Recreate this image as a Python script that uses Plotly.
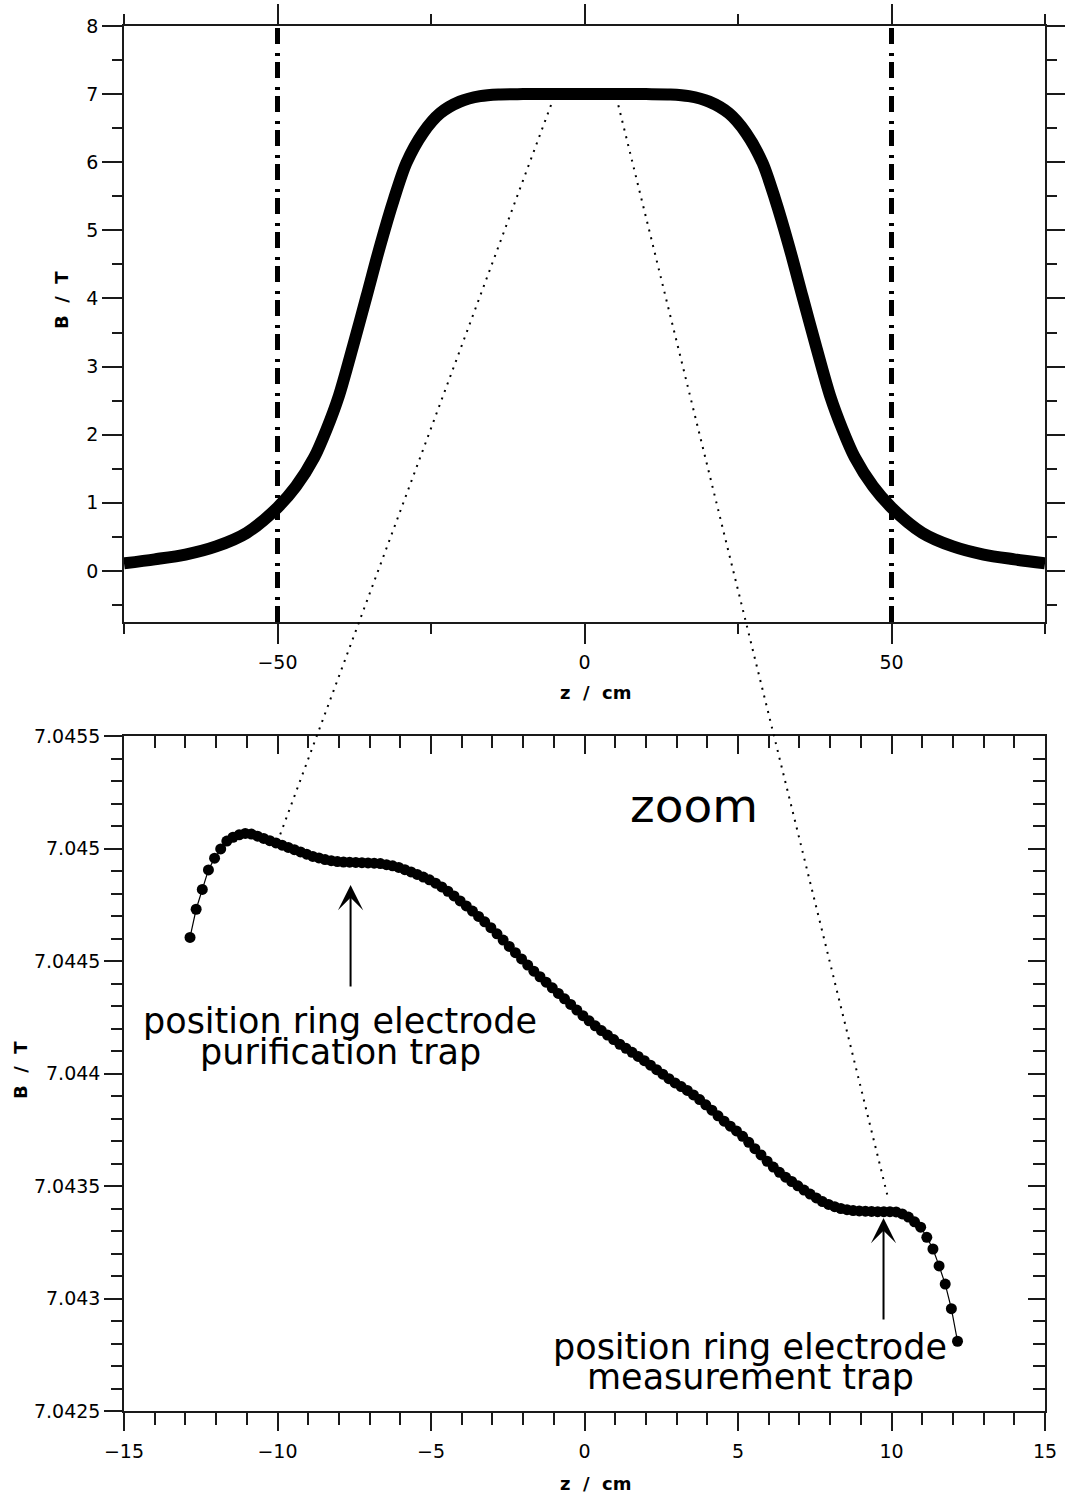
import plotly.graph_objects as go

W, H = 1065, 1499

# ---------------- overview panel (B along the magnet axis) ----------------
z_overview = [-75, -70, -65, -60, -55, -50, -47, -44, -42, -40, -37.7, -35.5, -33.3, -31, -29,
              -26.3, -23.5, -20.3, -17, -14, -10, 0, 10, 14, 17, 20.3, 23.5, 26.3, 29, 31,
              33.3, 35.5, 37.7, 40, 42, 44, 47, 50, 55, 60, 65, 70, 75]
B_overview = [0.11, 0.17, 0.24, 0.36, 0.56, 0.93, 1.24, 1.67, 2.08, 2.57, 3.30, 4.03, 4.77, 5.47, 5.99,
              6.43, 6.72, 6.89, 6.97, 6.995, 7.0, 7.0, 7.0, 6.995, 6.97, 6.89, 6.72, 6.43, 5.99, 5.47,
              4.77, 4.03, 3.30, 2.57, 2.08, 1.67, 1.24, 0.93, 0.56, 0.36, 0.24, 0.17, 0.11]
boundary_z = [-50, 50]

# ---------------- zoom panel ----------------
z_zoom = [-12.85, -12.65, -12.45, -12.25, -12.05, -11.85, -11.65, -11.45, -11.25, -11.05,
          -10.85, -10.65, -10.45, -10.25, -10.05, -9.85, -9.65, -9.45, -9.25, -9.05,
          -8.85, -8.65, -8.45, -8.25, -8.05, -7.85, -7.65, -7.45, -7.25, -7.05,
          -6.85, -6.65, -6.45, -6.25, -6.05, -5.85, -5.65, -5.45, -5.25, -5.05,
          -4.85, -4.65, -4.45, -4.25, -4.05, -3.85, -3.65, -3.45, -3.25, -3.05,
          -2.85, -2.65, -2.45, -2.25, -2.05, -1.85, -1.65, -1.45, -1.25, -1.05,
          -0.85, -0.65, -0.45, -0.25, -0.05, 0.15, 0.35, 0.55, 0.75, 0.95,
          1.15, 1.35, 1.55, 1.75, 1.95, 2.15, 2.35, 2.55, 2.75, 2.95,
          3.15, 3.35, 3.55, 3.75, 3.95, 4.15, 4.35, 4.55, 4.75, 4.95,
          5.15, 5.35, 5.55, 5.75, 5.95, 6.15, 6.35, 6.55, 6.75, 6.95,
          7.15, 7.35, 7.55, 7.75, 7.95, 8.15, 8.35, 8.55, 8.75, 8.95,
          9.15, 9.35, 9.55, 9.75, 9.95, 10.15, 10.35, 10.55, 10.75, 10.95,
          11.15, 11.35, 11.55, 11.75, 11.95, 12.15]
B_zoom = [7.044605, 7.044730, 7.044818, 7.044905, 7.044957, 7.044998, 7.045033, 7.045050, 7.045061, 7.045067,
          7.045064, 7.045055, 7.045045, 7.045035, 7.045025, 7.045015, 7.045005, 7.044995, 7.044985, 7.044975,
          7.044965, 7.044958, 7.044951, 7.044946, 7.044942, 7.044940, 7.044939, 7.044938, 7.044937, 7.044936,
          7.044935, 7.044933, 7.044928, 7.044923, 7.044916, 7.044906, 7.044896, 7.044885, 7.044873, 7.044861,
          7.044846, 7.044829, 7.044810, 7.044789, 7.044767, 7.044745, 7.044722, 7.044698, 7.044674, 7.044648,
          7.044621, 7.044593, 7.044565, 7.044537, 7.044509, 7.044482, 7.044455, 7.044430, 7.044406, 7.044381,
          7.044356, 7.044332, 7.044307, 7.044282, 7.044257, 7.044234, 7.044212, 7.044191, 7.044171, 7.044151,
          7.044130, 7.044112, 7.044094, 7.044076, 7.044057, 7.044037, 7.044017, 7.043997, 7.043977, 7.043958,
          7.043942, 7.043925, 7.043905, 7.043884, 7.043861, 7.043837, 7.043812, 7.043788, 7.043766, 7.043745,
          7.043721, 7.043694, 7.043666, 7.043638, 7.043610, 7.043584, 7.043561, 7.043539, 7.043520, 7.043501,
          7.043482, 7.043464, 7.043447, 7.043431, 7.043418, 7.043408, 7.043400, 7.043395, 7.043391, 7.043389,
          7.043388, 7.043387, 7.043386, 7.043386, 7.043386, 7.043385, 7.043376, 7.043362, 7.043341, 7.043317,
          7.043272, 7.043220, 7.043145, 7.043064, 7.042955, 7.042810]

# trap positions (arrow tips) and labels
trap_z = [-7.62, 9.74]
trap_B = [7.044838, 7.043358]
trap_labels = [["position ring electrode", "purification trap"],
               ["position ring electrode", "measurement trap"]]

# zoom connector endpoints: (z, B) in overview panel -> (z, B) in zoom panel
link_top = [(-5.0, 6.95), (5.2, 6.95)]
link_bottom = [(-10.0, 7.04503), (9.9, 7.04344)]

# axis ranges
x1_range = [-75, 75]
y1_range = [-0.75, 8]
x2_range = [-15, 15]
y2_range = [7.0425, 7.0455]

# ---------------- layout geometry ----------------
xdom = [124 / W, 1045 / W]
y1dom = [1 - 622 / H, 1 - 26 / H]
y2dom = [1 - 1411 / H, 1 - 736 / H]

FONT = "DejaVu Sans"
AXC = "#1a1a1a"


def to_paper(val, rng, dom):
    return dom[0] + (val - rng[0]) / (rng[1] - rng[0]) * (dom[1] - dom[0])


fig = go.Figure()

fig.add_trace(go.Scatter(x=z_overview, y=B_overview, mode="lines",
                         line=dict(color="black", width=12, shape="spline", smoothing=0.8),
                         xaxis="x", yaxis="y", showlegend=False, hoverinfo="skip"))

fig.add_trace(go.Scatter(x=z_zoom, y=B_zoom, mode="lines+markers",
                         line=dict(color="black", width=1.2),
                         marker=dict(color="black", size=11),
                         xaxis="x2", yaxis="y2", showlegend=False))

# dummy traces so the inside-tick overlay axes are drawn
fig.add_trace(go.Scatter(x=[x2_range[0]], y=[y2_range[0]], mode="markers", marker=dict(opacity=0),
                         xaxis="x3", yaxis="y2", showlegend=False, hoverinfo="skip"))
fig.add_trace(go.Scatter(x=[x2_range[0]], y=[y2_range[0]], mode="markers", marker=dict(opacity=0),
                         xaxis="x2", yaxis="y3", showlegend=False, hoverinfo="skip"))

shapes = []
for zb in boundary_z:
    shapes.append(dict(type="line", xref="x", yref="y domain", x0=zb, x1=zb, y0=0, y1=1,
                       line=dict(color="black", width=5, dash="16px,6px,3px,9px")))

for (zt, bt), (zb, bb) in zip(link_top, link_bottom):
    shapes.append(dict(type="line", xref="paper", yref="paper",
                       x0=to_paper(zt, x1_range, xdom), y0=to_paper(bt, y1_range, y1dom),
                       x1=to_paper(zb, x2_range, xdom), y1=to_paper(bb, y2_range, y2dom),
                       line=dict(color="black", width=2, dash="2px,6px")))

tickfont = dict(family=FONT, size=19, color="black")
common = dict(showgrid=False, zeroline=False, showline=True, linecolor=AXC, linewidth=1.5,
              tickcolor=AXC, tickwidth=1.5, tickfont=tickfont, automargin=False)

annotations = []
title_font = dict(family=FONT, size=18, color="black", weight="bold")
sep = "\u00a0\u00a0/\u00a0\u00a0"
# axis titles
annotations.append(dict(text="z" + sep + "cm", xref="paper", yref="paper", x=596 / W, y=1 - 692 / H,
                        showarrow=False, font=title_font, xanchor="center", yanchor="middle"))
annotations.append(dict(text="z" + sep + "cm", xref="paper", yref="paper", x=596 / W, y=1 - 1483 / H,
                        showarrow=False, font=title_font, xanchor="center", yanchor="middle"))
annotations.append(dict(text="B" + sep + "T", xref="paper", yref="paper", x=62 / W, y=1 - 300 / H,
                        showarrow=False, textangle=-90, font=title_font,
                        xanchor="center", yanchor="middle"))
annotations.append(dict(text="B" + sep + "T", xref="paper", yref="paper", x=20 / W, y=1 - 1070 / H,
                        showarrow=False, textangle=-90, font=title_font,
                        xanchor="center", yanchor="middle"))
# zoom label
annotations.append(dict(text="zoom", xref="paper", yref="paper", x=694 / W, y=1 - 805 / H,
                        showarrow=False, font=dict(family=FONT, size=47, color="black"),
                        xanchor="center", yanchor="middle"))
# arrows
for zt, bt in zip(trap_z, trap_B):
    annotations.append(dict(x=zt, y=bt, xref="x2", yref="y2", ax=0, ay=103, showarrow=True,
                            arrowhead=3, arrowsize=2.1, arrowwidth=2, arrowcolor="black", text=""))
# trap labels
label_pos = [(340, 1021, 1052), (750, 1347, 1377)]
for (cx, y1p, y2p), lines in zip(label_pos, trap_labels):
    for yp, txt in zip((y1p, y2p), lines):
        annotations.append(dict(text=txt, xref="paper", yref="paper", x=cx / W, y=1 - yp / H,
                                showarrow=False, font=dict(family=FONT, size=35, color="black"),
                                xanchor="center", yanchor="middle"))

fig.update_layout(
    width=W, height=H,
    margin=dict(l=0, r=0, t=0, b=0, pad=0),
    paper_bgcolor="white", plot_bgcolor="white",
    showlegend=False,
    xaxis=dict(domain=xdom, anchor="y", range=x1_range, tick0=0, dtick=50,
               ticks="outside", ticklen=20, mirror="allticks", ticklabelstandoff=2,
               minor=dict(dtick=25, tick0=0, ticklen=10, ticks="outside", tickcolor=AXC, tickwidth=1.5),
               **common),
    yaxis=dict(domain=y1dom, anchor="x", range=y1_range, tick0=0, dtick=1,
               ticks="outside", ticklen=20, mirror="allticks",
               minor=dict(dtick=0.5, tick0=0, ticklen=10, ticks="outside", tickcolor=AXC, tickwidth=1.5),
               **common),
    xaxis2=dict(domain=xdom, anchor="y2", range=x2_range, tick0=0, dtick=5,
                ticks="outside", ticklen=18, mirror=True, ticklabelstandoff=4,
                minor=dict(dtick=1, tick0=0, ticklen=12, ticks="outside", tickcolor=AXC, tickwidth=1.5),
                **common),
    yaxis2=dict(domain=y2dom, anchor="x2", range=y2_range, tick0=7.0425, dtick=0.0005,
                tickformat=".5~g",
                ticks="outside", ticklen=18, mirror=True,
                minor=dict(dtick=0.0001, tick0=7.0425, ticklen=11, ticks="outside", tickcolor=AXC, tickwidth=1.5),
                **common),
    xaxis3=dict(domain=xdom, anchor="y2", overlaying="x2", side="top", range=x2_range, tick0=0, dtick=5,
                ticks="inside", ticklen=18, showticklabels=False,
                minor=dict(dtick=1, tick0=0, ticklen=12, ticks="inside", tickcolor=AXC, tickwidth=1.5),
                **common),
    yaxis3=dict(domain=y2dom, anchor="x2", overlaying="y2", side="right", range=y2_range,
                tick0=7.0425, dtick=0.0005, ticks="inside", ticklen=17, showticklabels=False,
                minor=dict(dtick=0.0001, tick0=7.0425, ticklen=12, ticks="inside", tickcolor=AXC, tickwidth=1.5),
                **common),
    shapes=shapes,
    annotations=annotations,
)

fig.write_html("out.html")
